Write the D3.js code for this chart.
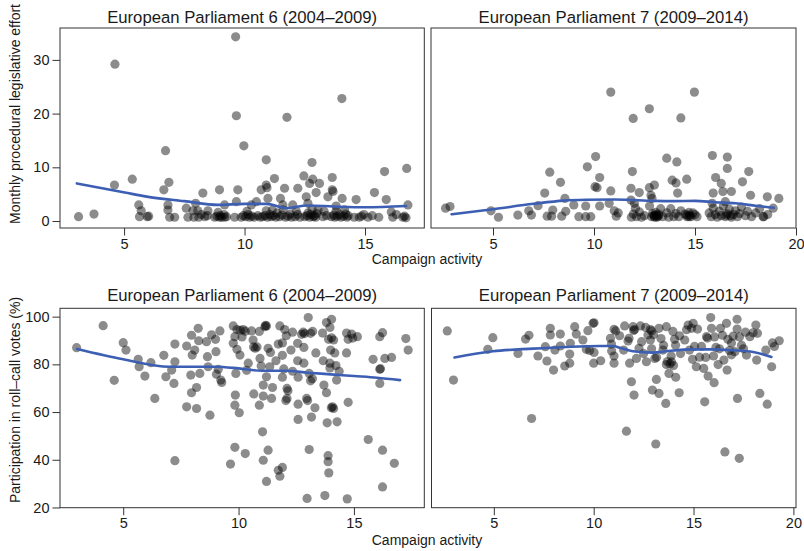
<!DOCTYPE html>
<html>
<head>
<meta charset="utf-8">
<script src="https://cdn.jsdelivr.net/npm/d3@7"></script>
<style>
  body { margin: 0; background: #fff; }
  text { font-family: "Liberation Sans", Arial, Helvetica, sans-serif; fill: #1a1a1a; }
</style>
</head>
<body>
<div id="visual"></div>
<script>
const panelTitles = ["European Parliament 6 (2004\u20132009)", "European Parliament 7 (2009\u20132014)"];
const xLabel = "Campaign activity";
const yLabelEffort = "Monthly procedural legislative effort";
const yLabelVotes = "Participation in roll\u2013call votes (%)";

const xTicksEP6 = [5, 10, 15];
const xTicksEP7 = [5, 10, 15, 20];
const yTicksEffort = [0, 10, 20, 30];
const yTicksVotes = [20, 40, 60, 80, 100];

// [campaign activity, monthly procedural effort], EP6
const ep6Effort = [
  [3.11,0.8],[3.75,1.3],[4.62,29.2],[4.6,6.7],[5.34,7.8],[5.61,3.0],[5.71,1.9],[5.64,0.8],[5.96,0.8],[6.02,0.9],
  [6.72,13.1],[6.86,7.2],[6.65,5.8],[6.82,3.0],[6.82,2.05],[6.89,0.7],[7.1,0.7],
  [7.58,2.4],[7.65,0.7],[7.97,3.3],[7.86,1.9],[8.06,1.9],[7.9,0.7],[8.1,0.7],[8.27,5.2],[8.48,1.9],[8.76,0.7],[8.96,0.7],[9.17,0.7],[8.96,5.8],[9.17,3.0],
  [9.63,34.3],[9.66,19.6],[9.66,3.6],[9.72,5.8],[9.59,0.7],[9.86,0.7],[9.97,14.0],[10.28,3.0],[10.2,0.7],[10.49,3.6],[10.69,5.8],
  [10.9,11.4],[10.9,6.7],[10.93,6.2],[10.97,4.2],[11.24,7.9],[11.49,4.2],[11.59,3.0],[11.66,6.1],[11.76,19.3],[12.0,3.0],[12.21,6.1],[12.46,8.4],
  [12.56,4.5],[12.63,3.3],[12.7,7.0],[12.8,10.9],[12.83,7.8],[12.97,5.3],[13.11,7.0],[12.63,1.5],
  [13.46,4.5],[13.64,8.1],[13.64,5.8],[13.67,5.5],[13.8,2.8],[14.05,4.2],[14.04,22.8],[14.63,4.0],[15.39,5.3],[15.81,9.2],[15.88,4.0],
  [16.09,1.7],[16.73,9.8],[16.78,3.0],[16.15,0.7],[16.57,0.7],[16.64,0.9],[15.57,0.7],[15.12,0.7],[14.55,0.7],[14.76,0.7],
  [10.75,0.8],[10.85,1.0],[10.95,0.7],[11.05,1.2],[11.1,0.8],[11.2,1.0],[11.3,0.7],[10.9,1.9],[11.15,2.0],[11.35,1.5],
  [11.45,0.8],[11.55,1.1],[11.7,0.7],[11.8,0.9],[11.9,1.3],[11.95,0.7],[11.6,2.1],
  [12.1,0.8],[12.2,1.2],[12.3,0.7],[12.15,1.8],
  [12.5,0.8],[12.6,1.0],[12.7,0.7],[12.75,1.2],[12.85,0.8],[12.9,1.0],[12.95,0.7],[13.0,1.4],[12.8,2.2],[13.05,2.0],
  [13.25,0.8],[13.4,1.0],[13.3,1.8],
  [13.6,0.8],[13.7,1.1],[13.75,0.7],[13.85,0.9],[13.95,1.2],[14.0,0.7],[14.1,0.9],[14.2,1.3],[14.25,0.7],[14.3,1.0],[13.8,1.9],[14.15,2.1],
  [8.85,0.9],[9.0,1.0],[9.05,0.7],[9.15,1.2],[9.25,0.8],[8.9,1.6],
  [9.95,1.0],[10.05,0.8],[10.15,1.2],[10.3,0.9],[10.4,0.7],[10.1,1.8],
  [10.55,1.0],[10.65,0.7],[8.2,1.2],[8.35,0.8],[8.45,1.0],[14.85,0.9],[14.95,1.2],[15.3,1.0],[16.3,1.2],[16.7,0.6]
];

// [campaign activity, monthly procedural effort], EP7
const ep7Effort = [
  [2.65,2.4],[2.87,2.7],[4.9,1.9],[5.27,0.7],[6.23,1.1],[6.77,1.9],[6.9,1.1],[7.23,2.85],[7.56,5.2],[7.81,9.1],[7.68,0.9],[7.96,2.05],
  [8.34,7.2],[7.9,0.9],[8.4,0.9],[8.56,4.2],[8.6,1.8],[9.0,3.0],[9.25,0.8],[9.59,0.8],[9.84,0.8],[9.59,2.8],[9.67,10.1],[10.08,12.0],
  [10.05,6.4],[10.15,6.2],[10.28,8.1],[10.28,2.8],[10.75,3.3],[10.83,5.6],[10.83,24.0],
  [11.83,6.1],[11.9,9.2],[11.83,3.9],[11.94,19.1],[12.24,5.3],[12.74,20.9],[12.74,6.2],[12.82,4.8],[12.87,4.2],[12.99,6.7],
  [13.6,11.7],[13.87,7.6],[14.06,7.1],[14.1,11.0],[14.14,5.2],[14.3,19.2],[14.59,7.8],[14.97,24.0],
  [15.86,12.2],[16.6,11.9],[16.6,9.8],[16.02,8.1],[16.3,7.0],[16.38,5.5],[16.8,5.5],[15.9,5.2],[17.35,7.3],[17.66,9.2],[17.75,4.8],
  [18.58,4.5],[19.15,4.2],[18.87,2.4],[18.37,0.8],
  [11.0,1.9],[11.1,0.9],[11.2,1.5],[11.85,0.7],[11.95,1.3],[12.05,2.4],[12.1,0.8],[12.25,1.7],[12.35,0.7],[12.5,1.0],
  [12.75,2.8],[12.85,0.8],[12.9,1.4],[12.95,1.0],[13.0,0.7],[13.05,1.6],[13.1,1.1],[13.15,0.8],[13.2,1.3],[13.3,2.3],[13.4,0.8],
  [13.6,1.5],[13.7,0.7],[13.8,2.3],[13.95,0.8],[14.05,1.4],[14.2,0.8],[14.3,1.9],
  [14.5,1.3],[14.6,0.8],[14.7,1.6],[14.75,1.1],[14.8,0.8],[14.9,1.5],[15.0,1.2],[15.1,0.8],
  [15.7,1.5],[15.8,0.8],[15.9,2.4],[16.0,1.2],[16.1,0.7],[16.2,1.8],[16.3,1.0],[16.4,2.8],[16.5,0.8],[16.6,1.4],[16.7,2.2],
  [16.8,0.7],[16.9,1.2],[17.0,1.9],[17.1,0.8],[17.2,1.4],[17.3,2.6],[17.5,1.0],[17.6,1.8],[17.8,0.8],[18.0,1.5],[18.2,2.3],[18.4,0.8],[18.6,1.2],
  [13.0,1.0],[13.1,0.7],[13.2,1.0],[14.6,1.1],[14.7,0.8],[16.55,1.1],[16.75,1.0],[12.0,3.3],[15.85,3.3],[16.5,3.6]
];

// [campaign activity, roll-call participation %], EP6
const ep6Votes = [
  [2.98,87.0],[4.13,96.2],[4.61,73.3],[5.0,89.1],[5.12,86.0],[5.65,82.1],[5.69,79.0],[5.94,75.1],[6.2,80.7],[6.37,65.7],[6.76,83.8],
  [6.85,74.8],[7.1,77.6],[7.24,88.5],[7.24,81.1],[7.2,72.0],[7.24,39.6],
  [7.75,87.7],[7.96,92.2],[7.99,83.9],[7.93,75.5],[7.96,68.1],[7.75,62.2],[8.18,61.5],[8.18,70.3],[8.25,95.1],[8.27,89.9],[8.1,86.0],
  [8.32,76.2],[8.61,89.5],[8.65,83.2],[8.76,58.7],[8.68,79.0],[9.02,85.3],[8.83,92.4],[9.19,94.0],[9.0,90.5],[9.04,75.9],[9.12,77.9],
  [9.23,73.4],[9.27,72.4],
  [9.77,96.1],[9.77,88.8],[9.84,91.6],[9.93,86.3],[9.88,76.2],[9.86,67.1],[9.84,62.9],[10.03,59.7],[9.84,45.2],[9.65,38.2],[10.29,42.6],
  [9.93,94.6],[10.07,94.3],[10.2,94.6],[10.29,93.9],[10.06,83.9],[10.15,91.5],[10.42,80.5],[10.35,77.5],[10.56,94.0],[10.63,90.2],
  [10.65,87.3],[10.72,86.8],[10.8,87.3],[10.66,67.6],[10.9,93.8],[10.93,82.5],[10.98,79.3],[10.9,62.9],[11.04,51.7],[11.07,39.8],
  [11.07,66.7],[11.14,95.8],[11.21,96.1],[11.17,96.3],[11.07,71.3],[11.21,74.8],[11.28,86.7],[11.38,85.0],[11.35,79.0],[11.47,70.3],
  [11.43,65.7],[11.21,30.9],[11.28,44.0],
  [11.62,81.5],[11.72,35.6],[11.79,33.1],[11.9,36.8],[11.79,96.1],[11.72,88.5],[11.9,89.0],[11.9,83.8],[11.96,78.1],[11.9,74.6],
  [12.1,69.9],[12.14,68.9],[12.1,65.7],[12.05,64.8],[12.0,94.6],[12.07,92.0],[12.27,86.0],[12.34,93.5],[12.34,77.1],[12.56,81.5],
  [12.58,74.6],[12.58,63.3],[12.58,56.9],[12.56,88.8],[12.73,92.6],[12.8,93.5],[12.86,92.9],[12.83,87.1],[12.83,80.5],[12.95,65.7],
  [12.99,64.8],
  [13.02,99.6],[12.97,23.8],[13.06,44.3],[13.06,76.2],[13.12,73.1],[13.16,57.9],[13.21,93.8],[13.31,61.8],[13.35,84.8],[13.12,93.0],
  [13.2,74.0],
  [13.64,93.1],[13.67,81.5],[13.7,71.3],[13.81,68.1],[13.84,55.5],[13.88,41.7],[13.88,39.2],[13.91,34.5],[13.74,25.0],[13.81,97.5],
  [13.96,95.5],[14.03,98.9],[13.9,90.5],[14.03,91.1],[13.99,86.0],[13.96,80.5],[13.96,78.5],[14.07,62.2],[14.12,61.5],[14.02,61.8],
  [14.12,90.2],[14.17,84.8],[14.22,79.5],[14.25,73.4],[14.27,55.9],[14.36,77.1],
  [14.68,93.1],[14.68,84.8],[14.75,64.1],[14.71,23.6],[14.75,90.5],[14.9,92.7],[14.95,91.0],[15.15,91.6],
  [15.62,48.5],[15.83,82.1],[16.12,91.6],[16.24,93.3],[16.12,77.9],[16.15,78.2],[16.12,72.0],[16.24,44.0],[16.24,28.6],[16.34,82.5],
  [16.63,82.9],[16.75,38.5],[17.25,90.8],[17.35,86.0]
];

// [campaign activity, roll-call participation %], EP7
const ep7Votes = [
  [2.67,94.0],[2.98,73.4],[4.7,86.3],[4.95,91.2],[6.21,84.6],[6.59,90.6],[6.76,92.2],[6.89,57.3],[7.21,83.5],[7.58,87.4],[7.66,81.4],
  [7.83,95.1],[7.83,92.3],[7.99,77.6],[8.06,86.0],[8.33,92.7],[8.33,87.7],[8.55,79.3],[8.8,80.5],[8.83,88.8],[8.8,84.3],[9.05,95.8],
  [9.13,92.7],[9.46,90.2],[9.63,86.3],[9.71,94.1],[9.8,85.8],[9.97,97.2],[10.02,97.4],[10.0,80.5],[10.02,85.0],[10.35,81.5],
  [10.84,90.9],[10.89,88.5],[10.9,85.6],[11.02,80.5],[11.02,83.5],[11.02,94.7],[11.1,94.0],[11.55,96.1],[11.77,90.9],[11.72,89.8],
  [11.8,80.5],[11.89,72.7],[11.97,95.8],[12.0,94.2],[12.05,94.6],[12.02,67.1],[11.64,52.0],[12.14,82.5],[12.27,86.7],[12.34,96.1],
  [12.4,89.5],[12.64,81.1],[12.72,92.3],[12.84,94.6],[12.9,94.0],[12.84,90.2],[12.94,69.2],[12.9,86.5],[13.06,82.5],[13.11,46.6],
  [13.14,73.7],[13.15,83.0],[13.27,67.8],[13.27,95.1],[13.37,90.8],[13.47,86.0],[13.61,63.6],[13.64,95.8],[13.64,79.9],[13.69,81.2],
  [13.77,76.2],[13.82,80.2],[13.88,83.5],[13.97,93.8],[14.05,90.5],[14.11,74.6],[14.1,88.0],[14.28,68.1],[14.35,84.5],[14.56,90.2],
  [14.65,94.5],[14.73,96.5],[14.9,95.1],[14.95,82.1],[14.98,97.2],[15.05,87.5],[15.14,79.0],[15.2,94.8],[15.4,87.5],[15.51,78.3],
  [15.56,64.3],[15.61,82.9],[15.7,91.0],[15.65,91.6],[15.73,75.1],[15.86,99.6],[15.9,95.1],[16.03,72.3],[16.05,91.5],[16.12,87.1],
  [16.23,79.9],[16.3,86.5],[16.35,95.1],[16.45,92.2],[16.52,81.8],[16.57,43.3],[16.65,97.2],[16.68,77.6],[16.72,90.5],[16.8,85.8],
  [16.9,84.0],[16.98,91.8],[17.07,85.3],[17.18,98.9],[17.18,94.8],[17.2,65.7],[17.29,40.6],[17.3,91.5],[17.4,88.0],[17.65,83.9],
  [17.82,91.6],[17.98,93.2],[18.12,96.5],[18.16,81.8],[18.2,93.0],[18.32,67.8],[18.62,86.0],[18.69,63.3],[18.91,79.0],[18.95,89.0],
  [19.05,87.5],[19.29,89.9],
  [11.3,92.0],[11.5,86.0],[12.5,84.5],[13.0,92.5],[13.5,88.0],[14.3,92.0],[14.8,86.0],[15.3,83.0],[16.0,83.5],[17.5,86.5],
  [13.9,81.0],[14.0,79.5],[12.6,95.5],[16.9,89.0],[17.6,93.5]
];

// loess fits
const ep6EffortSmooth = [[3.04,7.0],[5.03,5.3],[6,4.5],[7.5,3.7],[8.9,3.0],[10,3.2],[10.9,3.2],[11.75,2.4],[12.6,2.9],[13.7,2.7],[15,2.55],[16.7,2.8]];
const ep7EffortSmooth = [[2.95,1.25],[5,2.2],[7,3.2],[8.5,3.8],[9.6,3.95],[11,4.0],[12,3.9],[13,3.75],[14,3.7],[15,3.75],[16,3.5],[17,3.3],[18,2.85],[18.9,2.45]];
const ep6VotesSmooth = [[3,86.4],[5,82.1],[7,79.0],[8,79.0],[9,79.0],[10,78.3],[11,77.3],[11.5,77.3],[12,77.3],[13,76.5],[14,75.8],[15,75.1],[16,74.4],[17,73.4]];
const ep7VotesSmooth = [[3.03,82.9],[4.95,85.5],[6.96,86.6],[8.63,87.3],[10.3,87.7],[10.97,87.7],[11.3,87.0],[11.97,85.5],[12.97,84.9],[13.64,85.5],[14.98,86.3],[15.98,86.3],[16.98,85.9],[17.98,85.2],[18.9,83.1]];

const w = 804;
const h = 551;

const svgC = d3.select("#visual")
  .append("svg")
  .attr("width", w)
  .attr("height", h);

svgC.append("rect").attr("width", w).attr("height", h).attr("fill", "#fff");

function drawPanel(p) {
  const xScale = d3.scaleLinear().domain(p.xDomain).range([p.left, p.right]);
  const yScale = d3.scaleLinear().domain(p.yDomain).range([p.bottom, p.top]);

  svgC.append("g")
    .selectAll("circle")
    .data(p.points)
    .enter()
    .append("circle")
    .attr("cx", d => xScale(d[0]))
    .attr("cy", d => yScale(d[1]))
    .attr("r", 4.6)
    .attr("fill", "#000")
    .attr("fill-opacity", 0.45);

  const line = d3.line()
    .x(d => xScale(d[0]))
    .y(d => yScale(d[1]))
    .curve(d3.curveMonotoneX);

  svgC.append("path")
    .datum(p.smooth)
    .attr("d", line)
    .attr("fill", "none")
    .attr("stroke", "#3d5fb3")
    .attr("stroke-width", 2.6)
    .attr("stroke-linecap", "round");

  svgC.append("rect")
    .attr("x", p.left)
    .attr("y", p.top)
    .attr("width", p.right - p.left)
    .attr("height", p.bottom - p.top)
    .attr("fill", "none")
    .attr("stroke", "#333")
    .attr("stroke-width", 1);

  const xAxis = svgC.append("g")
    .attr("transform", "translate(0," + p.bottom + ")")
    .call(d3.axisBottom(xScale).tickValues(p.xTicks).tickSize(7.5).tickPadding(3));
  xAxis.select(".domain").remove();

  if (p.yTicks) {
    const yAxis = svgC.append("g")
      .attr("transform", "translate(" + p.left + ",0)")
      .call(d3.axisLeft(yScale).tickValues(p.yTicks).tickSize(7.5).tickPadding(3));
    yAxis.select(".domain").remove();
  }

  svgC.selectAll(".tick line").attr("stroke", "#333");
  svgC.selectAll(".tick text")
    .attr("font-family", "Liberation Sans, Arial, sans-serif")
    .attr("font-size", 14.5)
    .attr("fill", "#1a1a1a");

  svgC.append("text")
    .attr("x", (p.left + p.right) / 2)
    .attr("y", p.titleY)
    .attr("text-anchor", "middle")
    .attr("font-size", 16.7)
    .text(p.title);
}

drawPanel({ title: panelTitles[0], points: ep6Effort, smooth: ep6EffortSmooth, xDomain: [2.34, 17.46], yDomain: [-1.3, 35.94],
  left: 60, right: 424.3, top: 28, bottom: 228, xTicks: xTicksEP6, yTicks: yTicksEffort, titleY: 23 });
drawPanel({ title: panelTitles[1], points: ep7Effort, smooth: ep7EffortSmooth, xDomain: [1.93, 20], yDomain: [-1.3, 35.94],
  left: 431, right: 796, top: 28, bottom: 228, xTicks: xTicksEP7, yTicks: null, titleY: 23 });
drawPanel({ title: panelTitles[0], points: ep6Votes, smooth: ep6VotesSmooth, xDomain: [2.26, 18.05], yDomain: [19.9, 103.5],
  left: 60, right: 424.3, top: 308.3, bottom: 507.7, xTicks: xTicksEP6, yTicks: yTicksVotes, titleY: 301 });
drawPanel({ title: panelTitles[1], points: ep7Votes, smooth: ep7VotesSmooth, xDomain: [1.88, 20.13], yDomain: [19.9, 103.5],
  left: 431.5, right: 796, top: 308.3, bottom: 507.7, xTicks: xTicksEP7, yTicks: null, titleY: 301 });

// axis titles
svgC.append("text")
  .attr("x", 427)
  .attr("y", 264)
  .attr("text-anchor", "middle")
  .attr("font-size", 14)
  .text(xLabel);

svgC.append("text")
  .attr("x", 427)
  .attr("y", 545)
  .attr("text-anchor", "middle")
  .attr("font-size", 14)
  .text(xLabel);

svgC.append("text")
  .attr("transform", "translate(20,114) rotate(-90)")
  .attr("text-anchor", "middle")
  .attr("font-size", 14)
  .text(yLabelEffort);

svgC.append("text")
  .attr("transform", "translate(20,400) rotate(-90)")
  .attr("text-anchor", "middle")
  .attr("font-size", 14)
  .text(yLabelVotes);
</script>
</body>
</html>
